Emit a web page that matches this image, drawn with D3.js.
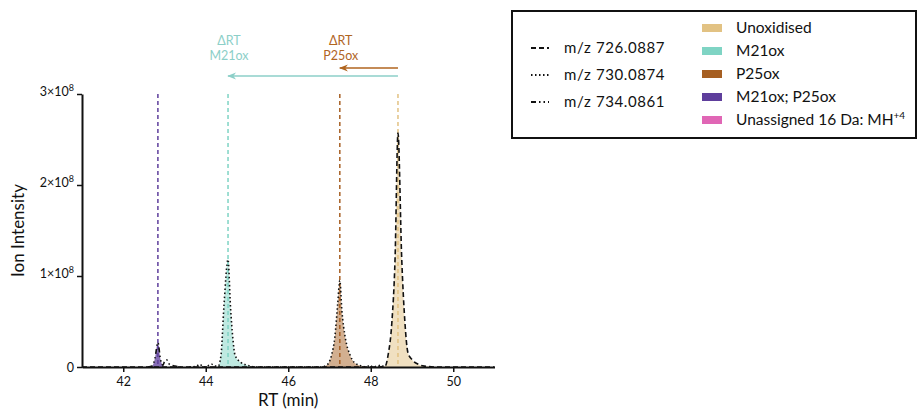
<!DOCTYPE html>
<html>
<head>
<meta charset="utf-8">
<script src="https://cdn.jsdelivr.net/npm/d3@7"></script>
<style>
  body { margin: 0; background: #fff; }
  svg { font-family: Lato, "Open Sans", sans-serif; }
</style>
</head>
<body>
<svg id="chart" width="918" height="410"></svg>
<script>
//
// DATA
//
// traces: [RT (min), intensity (x1e8)]
const trace726 = [
    [41.0, 0], [48.2, 0], [48.35, 0.01], [48.42, 0.13], [48.51, 0.48], [48.59, 1.2],
    [48.66, 2.57], [48.75, 1.2], [48.83, 0.48], [48.9, 0.16], [49.0, 0.08],
    [49.15, 0.03], [49.3, 0.01], [49.6, 0], [51.0, 0]
]
const trace730 = [
    [43.6, 0], [43.78, 0.01], [43.85, 0.03], [43.92, 0.01], [44.0, 0.0], [44.08, 0.02],
    [44.15, 0.03], [44.22, 0.01], [44.3, 0.01], [44.37, 0.13], [44.44, 0.66],
    [44.54, 1.18], [44.6, 0.66], [44.66, 0.3], [44.71, 0.13], [44.85, 0.05],
    [45.0, 0.02], [45.23, 0], [46.8, 0], [46.93, 0.02], [47.05, 0.13], [47.13, 0.33],
    [47.2, 0.7], [47.25, 0.95], [47.3, 0.62], [47.38, 0.33], [47.5, 0.13],
    [47.6, 0.05], [47.78, 0.01], [47.9, 0], [47.98, 0.02], [48.05, 0], [48.15, 0.01],
    [48.25, 0.02], [48.32, 0]
]
const trace734 = [
    [42.6, 0], [42.7, 0.01], [42.77, 0.1], [42.84, 0.27], [42.9, 0.09], [42.96, 0.02],
    [43.0, 0.06], [43.05, 0.08], [43.12, 0.03], [43.25, 0.01], [43.4, 0]
]
const traceNames = ['m/z 726.0887', 'm/z 730.0874', 'm/z 734.0861']

// assignments
const categories = ['Unoxidised', 'M21ox', 'P25ox', 'M21ox; P25ox', 'Unassigned 16 Da: MH']
const catColors = ['#e2c283', '#7fd4c4', '#a65f22', '#5e3e9c', '#e066b5']
const peakRT = [48.66, 44.54, 47.25, 42.84]
const peakTrace = [0, 1, 1, 2]
const fillFrom = [48.3, 44.3, 46.85, 42.65]
const fillTo = [49.45, 45.2, 47.85, 42.97]
const fillOpacity = [0.5, 0.5, 0.5, 0.75]

// ticks
const xTicks = [42, 44, 46, 48, 50]
const yTicks = [0, 1, 2, 3]

//
// LAYOUT
//
const svg = d3.select('#chart')
const x = d3.scaleLinear().domain([41, 51]).range([82, 494.5])
const y = d3.scaleLinear().domain([0, 3]).range([367, 94])
const traces = [trace726, trace730, trace734]
const dashes = ['5,3', '1.5,2.5', '5,3,1.5,3,1.5,3']

const line = d3.line().x(d => x(d[0])).y(d => y(d[1])).curve(d3.curveMonotoneX)
const area = d3.area().x(d => x(d[0])).y0(y(0)).y1(d => y(d[1])).curve(d3.curveMonotoneX)

// fills under assigned peaks
const defs = svg.append('defs')
peakRT.forEach((rt, i) => {
    defs.append('clipPath').attr('id', 'clip-' + i)
        .append('rect')
        .attr('x', x(fillFrom[i])).attr('y', y(3))
        .attr('width', x(fillTo[i]) - x(fillFrom[i])).attr('height', y(0) - y(3))
    svg.append('path')
        .attr('d', area(traces[peakTrace[i]]))
        .attr('clip-path', `url(#clip-${i})`)
        .attr('fill', catColors[i])
        .attr('fill-opacity', fillOpacity[i])
})

// vertical dashed RT markers
peakRT.forEach((rt, i) => {
    svg.append('line')
        .attr('x1', x(rt)).attr('x2', x(rt))
        .attr('y1', y(3)).attr('y2', y(0))
        .attr('stroke', catColors[i])
        .attr('stroke-width', 1.5)
        .attr('stroke-dasharray', '4,3')
})

// traces
traces.forEach((t, i) => {
    svg.append('path')
        .attr('d', line(t))
        .attr('fill', 'none')
        .attr('stroke', '#111')
        .attr('stroke-width', 1.6)
        .attr('stroke-dasharray', dashes[i])
})

// axes
const xAxis = svg.append('g')
    .attr('transform', `translate(0,${y(0)})`)
    .call(d3.axisBottom(x).tickValues(xTicks).tickSize(5).tickPadding(5).tickSizeOuter(0))
const yAxis = svg.append('g')
    .attr('transform', `translate(${x(41)},0)`)
    .call(d3.axisLeft(y).tickValues(yTicks).tickSize(5).tickPadding(3).tickSizeOuter(0).tickFormat(() => ''))
for (const ax of [xAxis, yAxis]) {
    ax.select('.domain').attr('stroke', '#111').attr('stroke-width', 2)
    ax.selectAll('.tick line').attr('stroke', '#111').attr('stroke-width', 1.5)
    ax.selectAll('text').attr('font-family', 'Lato, sans-serif').attr('font-size', 12.5).attr('fill', '#111')
}
// y tick labels with superscripts
yAxis.selectAll('.tick').each(function (d) {
    const t = d3.select(this).select('text')
    if (d === 0) {
        t.text('0')
        return
    }
    t.text(null)
    t.append('tspan').text(d + '\u00d710')
    t.append('tspan').attr('dy', -5).attr('font-size', 9).text('8')
    t.attr('dy', '0.1em')
})

// axis titles
svg.append('text')
    .attr('x', (x(41) + x(51)) / 2).attr('y', 406)
    .attr('text-anchor', 'middle').attr('font-size', 17).attr('fill', '#111')
    .text('RT (min)')
svg.append('text')
    .attr('transform', `translate(24,${(y(0) + y(3)) / 2}) rotate(-90)`)
    .attr('text-anchor', 'middle').attr('font-size', 17).attr('fill', '#111')
    .text('Ion Intensity')

// delta RT arrows
const arrows = [{ to: peakRT[2], ay: 68, label: 'P25ox', color: '#b0651f' },
                { to: peakRT[1], ay: 76, label: 'M21ox', color: '#8ccfc8' }]
arrows.forEach((a, i) => {
    defs.append('marker').attr('id', 'arrow-' + i)
        .attr('viewBox', '0 0 10 10').attr('refX', 9).attr('refY', 5)
        .attr('markerWidth', 6).attr('markerHeight', 6).attr('orient', 'auto')
        .append('path').attr('d', 'M0,1 L10,5 L0,9 L3,5 Z').attr('fill', a.color)
    svg.append('line')
        .attr('x1', x(peakRT[0])).attr('x2', x(a.to))
        .attr('y1', a.ay).attr('y2', a.ay)
        .attr('stroke', a.color).attr('stroke-width', 1.5)
        .attr('marker-end', `url(#arrow-${i})`)
    const lbl = svg.append('text')
        .attr('text-anchor', 'middle')
        .attr('font-size', 12.5).attr('fill', a.color)
    lbl.append('tspan').attr('x', x(a.to) + 1).attr('y', 45).text('\u0394RT')
    lbl.append('tspan').attr('x', x(a.to) + 1).attr('y', 60).text(a.label)
})

// legend
const leg = svg.append('g')
leg.append('rect')
    .attr('x', 512).attr('y', 11).attr('width', 404).attr('height', 127)
    .attr('fill', '#fff').attr('stroke', '#111').attr('stroke-width', 2)
traceNames.forEach((n, i) => {
    const ly = 48 + i * 27
    leg.append('line')
        .attr('x1', 531).attr('x2', 549).attr('y1', ly).attr('y2', ly)
        .attr('stroke', '#111').attr('stroke-width', 1.8)
        .attr('stroke-dasharray', dashes[i])
    leg.append('text')
        .attr('x', 564).attr('y', ly).attr('dy', '0.35em')
        .attr('font-size', 15).attr('fill', '#111').attr('letter-spacing', 0.6)
        .text(n)
})
categories.forEach((c, i) => {
    const ly = 28 + i * 23
    leg.append('rect')
        .attr('x', 702).attr('y', ly - 4).attr('width', 20).attr('height', 8)
        .attr('fill', catColors[i])
    const t = leg.append('text')
        .attr('x', 736).attr('y', ly).attr('dy', '0.35em')
        .attr('font-size', 15.5).attr('fill', '#111')
        .text(c)
    if (i === 4) t.append('tspan').attr('dy', -6).attr('font-size', 10).text('+4')
})
</script>
</body>
</html>
